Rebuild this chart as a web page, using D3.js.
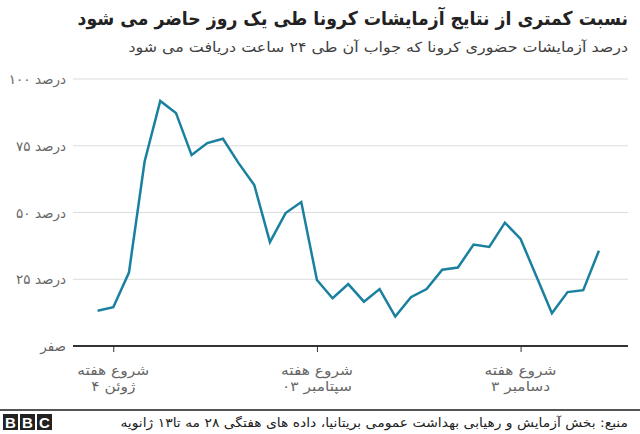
<!DOCTYPE html>
<html>
<head>
<meta charset="utf-8">
<script src="https://cdn.jsdelivr.net/npm/d3@7"></script>
<style>
  html, body { margin: 0; padding: 0; background: #fff; }
  svg { display: block; font-family: "DejaVu Sans", "Noto Sans", sans-serif; }
</style>
</head>
<body>
<svg id="chart" width="640" height="434"></svg>
<script>
// weekly series, week start dates (28 May 2020 .. 7 Jan 2021)
const firstWeek = "2020-05-28";
const weekCount = 33;
// % of in-person tests returned within 24 hours
const pctWithin24h = [
  13.2, 14.5, 27.5, 69.1, 91.8, 87.3, 71.5, 76.0, 77.6, 68.5, 60.3,
  38.9, 49.8, 53.9, 24.7, 17.9, 23.2, 16.6, 21.3, 11.0, 18.3, 21.3,
  28.6, 29.4, 38.0, 37.1, 46.2, 40.1, 26.2, 12.3, 20.2, 20.9, 35.7
];
const yTicks = [0, 25, 50, 75, 100];
const yTickLabels = ["صفر", "درصد ۲۵", "درصد ۵۰", "درصد ۷۵", "درصد ۱۰۰"];
const xTickDates = ["2020-06-04", "2020-09-03", "2020-12-03"];
const xTickLabels = [["شروع هفته", "ژوئن ۴"], ["شروع هفته", "سپتامبر ۰۳"], ["شروع هفته", "دسامبر ۳"]];

const title = "نسبت کمتری از نتایج آزمایشات کرونا طی یک روز حاضر می شود";
const subtitle = "درصد آزمایشات حضوری کرونا که جواب آن طی ۲۴ ساعت دریافت می شود";
const source = "منبع: بخش آزمایش و رهیابی بهداشت عمومی بریتانیا، داده های هفتگی ۲۸ مه  تا۱۳ ژانویه";

const parse = d3.utcParse("%Y-%m-%d");
const start = parse(firstWeek);
const data = pctWithin24h.slice(0, weekCount).map((v, i) => ({
  date: d3.utcWeek.offset(start, i), value: v
}));

const svg = d3.select("#chart");
const W = 640;
const M = { left: 73, right: 12, top: 79, bottom: 346 };

const x = d3.scaleUtc()
  .domain([parse("2020-05-17"), parse("2021-01-20")])
  .range([M.left, W - M.right]);
const y = d3.scaleLinear().domain([0, 100]).range([M.bottom, M.top]);

// stretch a text horizontally around its anchor so it spans `w` px
function fitWidth(sel, ax, w) {
  const len = sel.node().getComputedTextLength();
  const s = w / len;
  sel.attr("transform", `translate(${ax},0) scale(${s},1) translate(${-ax},0)`);
  return s;
}

// titles
const tTitle = svg.append("text")
  .attr("x", 628).attr("y", 25)
  .attr("text-anchor", "end")
  .style("font-size", "19px").style("font-weight", "bold").style("fill", "#222")
  .text(title);
fitWidth(tTitle, 628, 551);
const tSub = svg.append("text")
  .attr("x", 628).attr("y", 52)
  .attr("text-anchor", "end")
  .style("font-size", "14px").style("fill", "#404040")
  .text(subtitle);
fitWidth(tSub, 628, 500);

// grid + y labels
const gy = svg.append("g");
gy.selectAll("line.grid").data(yTicks.filter(d => d > 0)).join("line")
  .attr("class", "grid")
  .attr("x1", M.left).attr("x2", W - M.right)
  .attr("y1", d => y(d)).attr("y2", d => y(d))
  .attr("stroke", "#dcdcdc").attr("stroke-width", 1);
gy.selectAll("text").data(yTicks).join("text")
  .attr("x", 66).attr("y", d => y(d) + 5)
  .attr("text-anchor", "end")
  .style("font-size", "13.5px").style("fill", "#666")
  .text((d, i) => yTickLabels[i]);

// line
const line = d3.line().x(d => x(d.date)).y(d => y(d.value));
svg.append("path").datum(data)
  .attr("d", line)
  .attr("fill", "none")
  .attr("stroke", "#1a809f")
  .attr("stroke-width", 2.5)
  .attr("stroke-linejoin", "miter");

// x axis
const gx = svg.append("g").attr("transform", `translate(0,${M.bottom})`);
gx.call(d3.axisBottom(x).tickValues(xTickDates.map(parse)).tickSize(6).tickFormat(""))
  .call(g => g.select(".domain").attr("stroke", "#333").attr("stroke-width", 2)
    .attr("d", `M${M.left},0H${W - M.right}`))
  .call(g => g.selectAll(".tick line").attr("stroke", "#333").attr("stroke-width", 1));
xTickDates.forEach((d, i) => {
  const cx = x(parse(d));
  const t = svg.append("text")
    .attr("x", cx).attr("y", 375)
    .attr("text-anchor", "middle")
    .style("font-size", "13.5px").style("fill", "#666");
  xTickLabels[i].forEach((s, j) => t.append("tspan")
    .attr("x", cx).attr("dy", j ? 16 : 0).text(s));
  const len = t.select("tspan").node().getComputedTextLength();
  const sc = 72 / len;
  t.attr("transform", `translate(${cx},0) scale(${sc},1) translate(${-cx},0)`);
});

// footer
svg.append("line").attr("x1", 0).attr("x2", 640).attr("y1", 410).attr("y2", 410)
  .attr("stroke", "#555").attr("stroke-width", 2);
const logo = svg.append("g").attr("transform", "translate(3,414)");
["B", "B", "C"].forEach((c, i) => {
  logo.append("rect").attr("x", i * 17).attr("y", 0).attr("width", 15).attr("height", 16).attr("fill", "#222");
  logo.append("text").attr("x", i * 17 + 7.5).attr("y", 13.5)
    .attr("text-anchor", "middle")
    .style("font-family", "Liberation Sans, sans-serif")
    .style("font-size", "15px").style("font-weight", "bold").style("fill", "#fff").text(c);
});
const tSrc = svg.append("text")
  .attr("x", 628).attr("y", 427)
  .attr("text-anchor", "end")
  .style("font-size", "12.5px").style("fill", "#222")
  .text(source);
fitWidth(tSrc, 628, 508);
</script>
</body>
</html>
